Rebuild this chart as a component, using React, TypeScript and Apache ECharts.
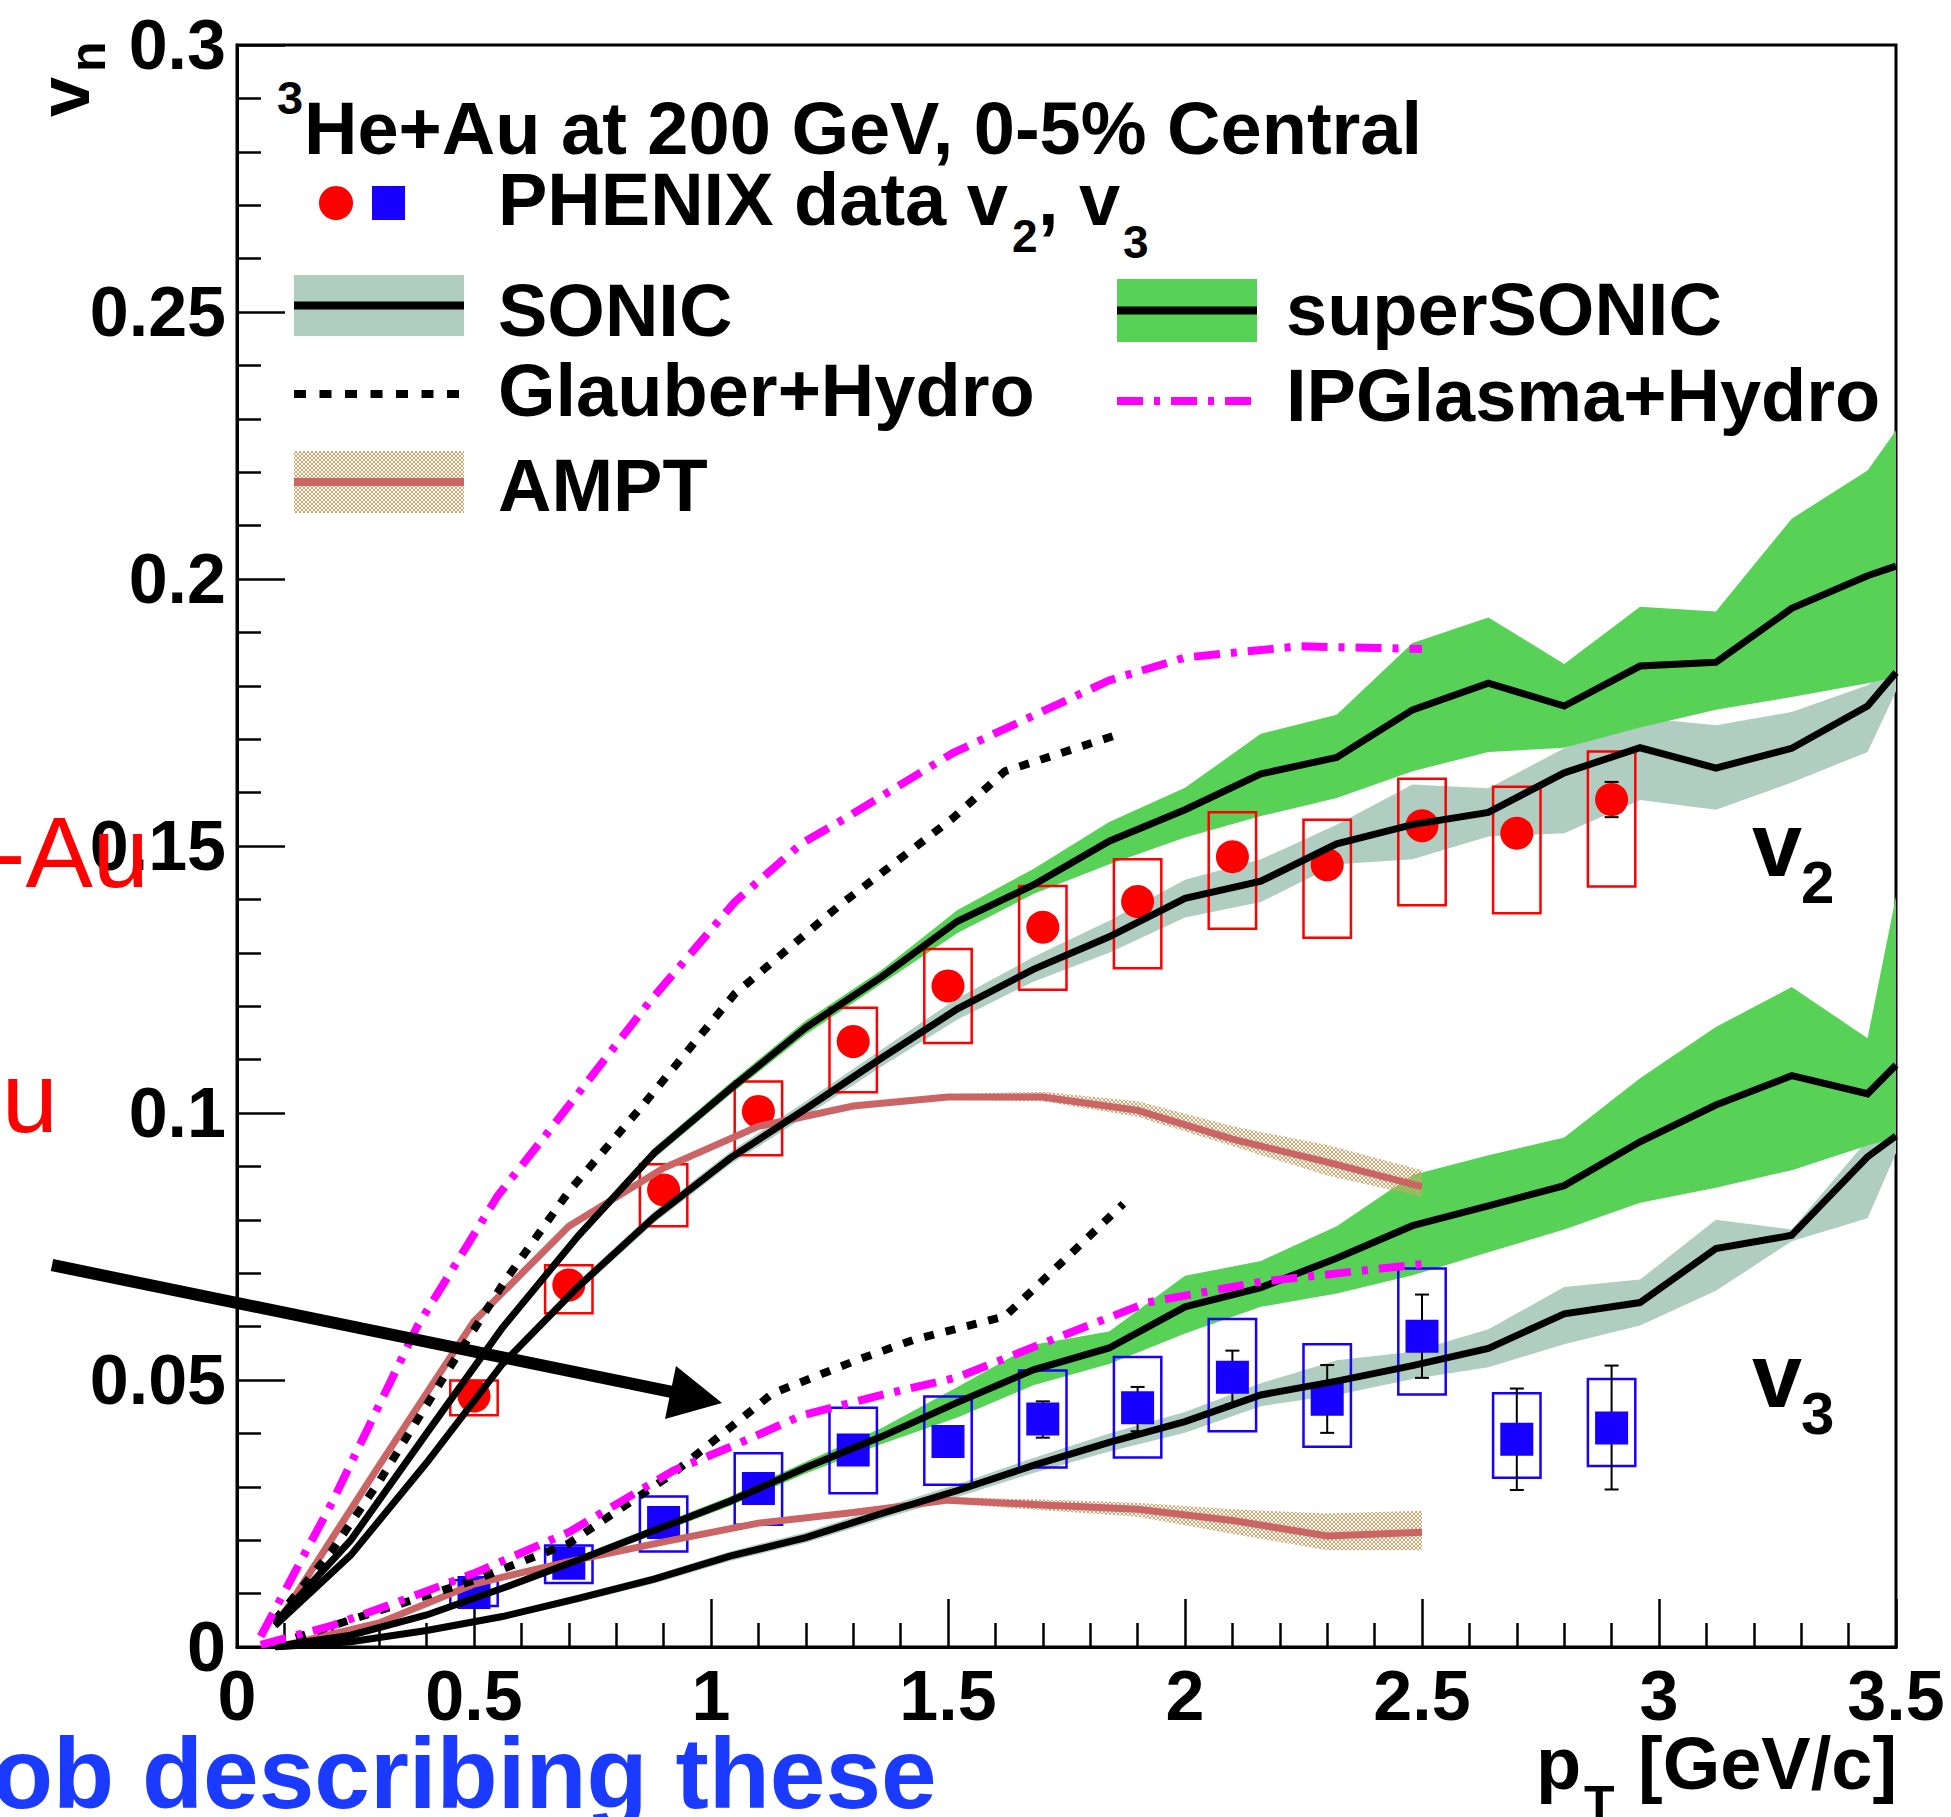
import React, { useEffect, useRef } from 'react';
import * as echarts from 'echarts';

const W = 1951;
const H = 1817;
const FONT = '"Liberation Sans", Arial, Helvetica, sans-serif';

// ---------- axis ticks ----------
const X_MIN = 0, X_MAX = 3.5, X_STEP = 0.5;
const Y_MIN = 0, Y_MAX = 0.3, Y_STEP = 0.05;

// ---------- hydro model grid (SONIC / superSONIC) ----------
const MODEL_PT = [0.08, 0.24, 0.40, 0.56, 0.72, 0.88, 1.04, 1.20, 1.36, 1.52, 1.68, 1.84, 2.00, 2.16, 2.32, 2.48, 2.64, 2.80, 2.96, 3.12, 3.28, 3.44, 3.50];

const SONIC_V2 = [0.0040, 0.0172, 0.0345, 0.0530, 0.0675, 0.0805, 0.0915, 0.1008, 0.1103, 0.1195, 0.1269, 0.1330, 0.1402, 0.1434, 0.1504, 0.1540, 0.1563, 0.1637, 0.1684, 0.1646, 0.1683, 0.1762, 0.1825];
const SONIC_V2_LO = [0.0035, 0.0165, 0.0337, 0.0521, 0.0665, 0.0794, 0.0903, 0.0994, 0.1087, 0.1175, 0.1246, 0.1300, 0.1366, 0.1395, 0.1466, 0.1475, 0.1518, 0.1524, 0.1586, 0.1568, 0.1619, 0.1676, 0.1790];
const SONIC_V2_HI = [0.0045, 0.0179, 0.0353, 0.0539, 0.0685, 0.0816, 0.0927, 0.1022, 0.1119, 0.1215, 0.1292, 0.1360, 0.1437, 0.1475, 0.1540, 0.1615, 0.1608, 0.1683, 0.1740, 0.1726, 0.1751, 0.1801, 0.1840];

const SUPER_V2 = [0.0045, 0.0200, 0.0400, 0.0598, 0.0770, 0.0925, 0.1045, 0.1160, 0.1255, 0.1359, 0.1427, 0.1509, 0.1568, 0.1635, 0.1666, 0.1755, 0.1805, 0.1762, 0.1837, 0.1844, 0.1945, 0.2006, 0.2024];
const SUPER_V2_LO = [0.0040, 0.0193, 0.0392, 0.0590, 0.0761, 0.0915, 0.1034, 0.1147, 0.1242, 0.1337, 0.1410, 0.1466, 0.1516, 0.1556, 0.1590, 0.1640, 0.1676, 0.1684, 0.1722, 0.1755, 0.1779, 0.1805, 0.1816];
const SUPER_V2_HI = [0.0050, 0.0207, 0.0408, 0.0606, 0.0779, 0.0935, 0.1056, 0.1173, 0.1268, 0.1380, 0.1457, 0.1545, 0.1609, 0.1710, 0.1746, 0.1880, 0.1928, 0.1841, 0.1948, 0.1939, 0.2113, 0.2203, 0.2278];

const SONIC_V3 = [0.0000, 0.0010, 0.0031, 0.0057, 0.0091, 0.0127, 0.0170, 0.0205, 0.0250, 0.0293, 0.0340, 0.0383, 0.0422, 0.0472, 0.0498, 0.0527, 0.0559, 0.0624, 0.0645, 0.0746, 0.0771, 0.0918, 0.0957];
const SONIC_V3_LO = [0.0000, 0.0006, 0.0026, 0.0051, 0.0084, 0.0119, 0.0161, 0.0195, 0.0239, 0.0281, 0.0326, 0.0366, 0.0401, 0.0451, 0.0472, 0.0502, 0.0524, 0.0567, 0.0602, 0.0667, 0.0760, 0.0803, 0.0925];
const SONIC_V3_HI = [0.0004, 0.0014, 0.0036, 0.0063, 0.0098, 0.0135, 0.0179, 0.0215, 0.0261, 0.0305, 0.0354, 0.0400, 0.0440, 0.0494, 0.0537, 0.0553, 0.0595, 0.0674, 0.0688, 0.0800, 0.0782, 0.0950, 0.0990];

const SUPER_V3 = [0.0001, 0.0022, 0.0060, 0.0110, 0.0163, 0.0218, 0.0273, 0.0336, 0.0394, 0.0458, 0.0519, 0.0560, 0.0637, 0.0673, 0.0728, 0.0789, 0.0826, 0.0864, 0.0946, 0.1015, 0.1070, 0.1036, 0.1090];
const SUPER_V3_LO = [0.0000, 0.0018, 0.0055, 0.0104, 0.0156, 0.0210, 0.0264, 0.0325, 0.0380, 0.0430, 0.0490, 0.0530, 0.0587, 0.0637, 0.0662, 0.0696, 0.0739, 0.0782, 0.0832, 0.0860, 0.0893, 0.0939, 0.0953];
const SUPER_V3_HI = [0.0002, 0.0026, 0.0065, 0.0116, 0.0170, 0.0226, 0.0282, 0.0347, 0.0410, 0.0487, 0.0566, 0.0591, 0.0695, 0.0723, 0.0788, 0.0884, 0.0921, 0.0954, 0.1065, 0.1161, 0.1236, 0.1140, 0.1406];

// ---------- Glauber+Hydro ----------
const GLAUBER_V2_PT = [0.08, 0.20, 0.30, 0.45, 0.565, 0.70, 0.85, 1.05, 1.27, 1.51, 1.62, 1.87];
const GLAUBER_V2 = [0.0050, 0.0180, 0.0310, 0.0525, 0.0685, 0.0853, 0.1008, 0.1223, 0.1388, 0.1552, 0.1640, 0.1712];
const GLAUBER_V3_PT = [0.08, 0.30, 0.50, 0.70, 0.92, 1.13, 1.31, 1.43, 1.62, 1.87];
const GLAUBER_V3 = [0.0005, 0.0068, 0.0125, 0.0194, 0.0325, 0.0475, 0.0538, 0.0576, 0.0619, 0.0830];

// ---------- IPGlasma+Hydro ----------
const IPG_V2_PT = [0.05, 0.20, 0.38, 0.55, 0.65, 0.87, 1.05, 1.19, 1.27, 1.51, 1.84, 2.00, 2.24, 2.50];
const IPG_V2 = [0.0020, 0.0270, 0.0600, 0.0845, 0.0957, 0.1208, 0.1395, 0.1504, 0.1545, 0.1674, 0.1810, 0.1853, 0.1874, 0.1869];
const IPG_V3_PT = [0.05, 0.20, 0.35, 0.50, 0.70, 0.92, 1.05, 1.19, 1.35, 1.52, 1.67, 1.92, 2.16, 2.50];
const IPG_V3 = [0.0004, 0.0040, 0.0088, 0.0138, 0.0215, 0.0330, 0.0378, 0.0433, 0.0470, 0.0505, 0.0558, 0.0645, 0.0684, 0.0717];

// ---------- AMPT ----------
const AMPT_PT = [0.1, 0.3, 0.5, 0.7, 0.9, 1.1, 1.3, 1.5, 1.7, 1.9, 2.1, 2.3, 2.5];
const AMPT_V2 = [0.0065, 0.0340, 0.0610, 0.0788, 0.0897, 0.0975, 0.1013, 0.1030, 0.1030, 0.1005, 0.0951, 0.0908, 0.0862];
const AMPT_V2_LO = [0.0060, 0.0335, 0.0605, 0.0783, 0.0892, 0.0970, 0.1008, 0.1025, 0.1022, 0.0993, 0.0938, 0.0883, 0.0843];
const AMPT_V2_HI = [0.0070, 0.0345, 0.0615, 0.0793, 0.0902, 0.0980, 0.1018, 0.1035, 0.1040, 0.1022, 0.0975, 0.0940, 0.0893];
const AMPT_V3 = [0.0003, 0.0045, 0.0118, 0.0160, 0.0197, 0.0232, 0.0252, 0.0275, 0.0266, 0.0258, 0.0237, 0.0208, 0.0215];
const AMPT_V3_LO = [0.0000, 0.0040, 0.0113, 0.0155, 0.0192, 0.0227, 0.0246, 0.0269, 0.0256, 0.0244, 0.0212, 0.0181, 0.0181];
const AMPT_V3_HI = [0.0006, 0.0050, 0.0123, 0.0165, 0.0202, 0.0237, 0.0258, 0.0281, 0.0276, 0.0270, 0.0258, 0.0250, 0.0255];

// ---------- PHENIX data ----------
const DATA_PT = [0.5, 0.7, 0.9, 1.1, 1.3, 1.5, 1.7, 1.9, 2.1, 2.3, 2.5, 2.7, 2.9];
const BOX_HALF_WIDTH = 0.05;
const V2 = [0.0470, 0.0678, 0.0856, 0.1003, 0.1134, 0.1238, 0.1348, 0.1396, 0.1480, 0.1465, 0.1538, 0.1524, 0.1587];
const V2_SYS_LO = [0.0434, 0.0625, 0.0788, 0.0921, 0.1039, 0.1131, 0.1231, 0.1271, 0.1345, 0.1328, 0.1389, 0.1374, 0.1424];
const V2_SYS_HI = [0.0499, 0.0715, 0.0904, 0.1059, 0.1197, 0.1307, 0.1425, 0.1475, 0.1563, 0.1549, 0.1626, 0.1611, 0.1677];
const V2_STAT_LO = [0.0465, 0.0673, 0.0851, 0.0997, 0.1128, 0.1231, 0.1340, 0.1387, 0.1470, 0.1453, 0.1525, 0.1508, 0.1554];
const V2_STAT_HI = [0.0475, 0.0683, 0.0861, 0.1009, 0.1140, 0.1245, 0.1356, 0.1405, 0.1490, 0.1477, 0.1551, 0.1540, 0.1620];
const V3 = [0.0102, 0.0157, 0.0233, 0.0297, 0.0369, 0.0385, 0.0427, 0.0448, 0.0505, 0.0464, 0.0582, 0.0389, 0.0410];
const V3_SYS_LO = [0.0077, 0.0120, 0.0179, 0.0229, 0.0288, 0.0304, 0.0336, 0.0355, 0.0404, 0.0375, 0.0473, 0.0317, 0.0339];
const V3_SYS_HI = [0.0125, 0.0190, 0.0282, 0.0363, 0.0448, 0.0469, 0.0518, 0.0543, 0.0614, 0.0567, 0.0709, 0.0475, 0.0502];
const V3_STAT_LO = [0.0098, 0.0152, 0.0227, 0.0290, 0.0360, 0.0372, 0.0392, 0.0404, 0.0455, 0.0401, 0.0504, 0.0294, 0.0295];
const V3_STAT_HI = [0.0106, 0.0162, 0.0239, 0.0304, 0.0378, 0.0398, 0.0460, 0.0487, 0.0555, 0.0528, 0.0660, 0.0484, 0.0527];

// ---------- colours ----------
const GREY_BAND = '#afcdc1';
const GREEN_BAND = '#57d257';
const AMPT_COLOR = '#cb6464';
const HATCH_COLOR = '#d8a46e';
const MAGENTA = '#ff00ff';
const RED = '#ff0000';
const BLUE = '#1800ff';
const GLAUBER_DASH = [10, 12];
const IPG_DASH = [26, 11, 6, 11];

function fmt(v: number) {
  return String(Number(v.toFixed(2)));
}

function makeHatch(): any {
  const c = document.createElement('canvas');
  c.width = 4;
  c.height = 4;
  const ctx = c.getContext('2d');
  if (ctx) {
    ctx.fillStyle = HATCH_COLOR;
    for (let i = 0; i < 4; i++) {
      ctx.fillRect(i, i, 1, 1);
      ctx.fillRect(3 - i, i, 1, 1);
    }
  }
  return { image: c, repeat: 'repeat', imageWidth: 4, imageHeight: 4 };
}

function bandSeries(xs: number[], lo: number[], hi: number[], fill: any, z: number) {
  const data = xs.map((x, i) => [x, lo[i], hi[i]]);
  return {
    type: 'custom',
    z,
    silent: true,
    data,
    encode: { x: 0, y: [1, 2] },
    renderItem: (params: any, api: any) => {
      if (params.dataIndex !== 0) return null;
      const pts: number[][] = [];
      for (let i = 0; i < data.length; i++) pts.push(api.coord([data[i][0], data[i][2]]));
      for (let i = data.length - 1; i >= 0; i--) pts.push(api.coord([data[i][0], data[i][1]]));
      return { type: 'polygon', shape: { points: pts }, style: { fill, stroke: null } };
    },
  };
}

function boxSeries(xs: number[], lo: number[], hi: number[], color: string, z: number) {
  return {
    type: 'custom',
    z,
    silent: true,
    data: xs.map((x, i) => [x, lo[i], hi[i]]),
    encode: { x: 0, y: [1, 2] },
    renderItem: (params: any, api: any) => {
      const x = api.value(0);
      const a = api.coord([x - BOX_HALF_WIDTH, api.value(2)]);
      const b = api.coord([x + BOX_HALF_WIDTH, api.value(1)]);
      return {
        type: 'rect',
        shape: { x: a[0], y: a[1], width: b[0] - a[0], height: b[1] - a[1] },
        style: { fill: 'transparent', stroke: color, lineWidth: 2.5 },
      };
    },
  };
}

function errSeries(xs: number[], lo: number[], hi: number[], z: number) {
  return {
    type: 'custom',
    z,
    silent: true,
    data: xs.map((x, i) => [x, lo[i], hi[i]]),
    encode: { x: 0, y: [1, 2] },
    renderItem: (params: any, api: any) => {
      const x = api.value(0);
      const t = api.coord([x, api.value(2)]);
      const b = api.coord([x, api.value(1)]);
      const w = 7;
      const st = { stroke: '#000', lineWidth: 2 };
      return {
        type: 'group',
        children: [
          { type: 'line', shape: { x1: t[0], y1: t[1], x2: b[0], y2: b[1] }, style: st },
          { type: 'line', shape: { x1: t[0] - w, y1: t[1], x2: t[0] + w, y2: t[1] }, style: st },
          { type: 'line', shape: { x1: b[0] - w, y1: b[1], x2: b[0] + w, y2: b[1] }, style: st },
        ],
      };
    },
  };
}

function lineSeries(xs: number[], ys: number[], color: string, width: number, type: any, z: number) {
  return {
    type: 'line',
    z,
    silent: true,
    data: xs.map((x, i) => [x, ys[i]]),
    showSymbol: false,
    symbol: 'none',
    lineStyle: { color, width, type, cap: 'butt', join: 'miter' },
  };
}

function scatterSeries(xs: number[], ys: number[], symbol: string, color: string, z: number) {
  return {
    type: 'scatter',
    z,
    silent: true,
    data: xs.map((x, i) => [x, ys[i]]),
    symbol,
    symbolSize: 33,
    itemStyle: { color, opacity: 1 },
  };
}

// text placed by its baseline (svg text uses central baseline)
function txt(x: number, base: number, text: string, size: number, o: any = {}) {
  const align = o.align || 'left';
  return {
    type: 'text',
    x,
    y: base - 0.347 * size,
    z: o.z != null ? o.z : 50,
    style: {
      text,
      fontSize: size,
      fontFamily: FONT,
      fontWeight: o.weight || 'bold',
      fill: o.color || '#000',
      align,
      textAlign: align,
      verticalAlign: 'middle',
      textVerticalAlign: 'middle',
    },
  };
}

function rotTxt(baseX: number, startY: number, text: string, size: number) {
  return {
    type: 'text',
    x: baseX - 0.347 * size,
    y: startY,
    rotation: Math.PI / 2,
    z: 50,
    style: {
      text,
      fontSize: size,
      fontFamily: FONT,
      fontWeight: 'bold',
      fill: '#000',
      align: 'left',
      textAlign: 'left',
      verticalAlign: 'middle',
      textVerticalAlign: 'middle',
    },
  };
}

export default function App() {
  const ref = useRef<HTMLDivElement>(null);

  useEffect(() => {
    if (!ref.current) return;
    const chart = echarts.init(ref.current, undefined, { renderer: 'svg', width: W, height: H });
    const hatch = makeHatch();

    const axisLabel = {
      color: '#000',
      fontSize: 70,
      fontWeight: 'bold',
      fontFamily: FONT,
      formatter: fmt,
    };
    const tickStyle = { color: '#000', width: 2.5 };

    const series: any[] = [
      bandSeries(MODEL_PT, SONIC_V2_LO, SONIC_V2_HI, GREY_BAND, 1),
      bandSeries(MODEL_PT, SONIC_V3_LO, SONIC_V3_HI, GREY_BAND, 1),
      bandSeries(MODEL_PT, SUPER_V2_LO, SUPER_V2_HI, GREEN_BAND, 1),
      bandSeries(MODEL_PT, SUPER_V3_LO, SUPER_V3_HI, GREEN_BAND, 1),
      bandSeries(AMPT_PT, AMPT_V2_LO, AMPT_V2_HI, hatch, 1),
      bandSeries(AMPT_PT, AMPT_V3_LO, AMPT_V3_HI, hatch, 1),
      boxSeries(DATA_PT, V2_SYS_LO, V2_SYS_HI, RED, 2),
      boxSeries(DATA_PT, V3_SYS_LO, V3_SYS_HI, BLUE, 2),
      errSeries(DATA_PT, V2_STAT_LO, V2_STAT_HI, 2),
      errSeries(DATA_PT, V3_STAT_LO, V3_STAT_HI, 2),
      scatterSeries(DATA_PT, V2, 'circle', RED, 3),
      scatterSeries(DATA_PT, V3, 'rect', BLUE, 3),
      lineSeries(AMPT_PT, AMPT_V2, AMPT_COLOR, 7, 'solid', 4),
      lineSeries(AMPT_PT, AMPT_V3, AMPT_COLOR, 7, 'solid', 4),
      lineSeries(MODEL_PT, SONIC_V2, '#000', 7, 'solid', 4),
      lineSeries(MODEL_PT, SONIC_V3, '#000', 7, 'solid', 4),
      lineSeries(MODEL_PT, SUPER_V2, '#000', 7, 'solid', 4),
      lineSeries(MODEL_PT, SUPER_V3, '#000', 7, 'solid', 4),
      lineSeries(GLAUBER_V2_PT, GLAUBER_V2, '#000', 8, GLAUBER_DASH, 4),
      lineSeries(GLAUBER_V3_PT, GLAUBER_V3, '#000', 8, GLAUBER_DASH, 4),
      lineSeries(IPG_V2_PT, IPG_V2, MAGENTA, 8, IPG_DASH, 4),
      lineSeries(IPG_V3_PT, IPG_V3, MAGENTA, 8, IPG_DASH, 4),
    ];

    const graphic: any[] = [
      // legend header
      txt(277, 114, '3', 47),
      txt(304, 154, 'He+Au at 200 GeV, 0-5% Central', 74),
      // PHENIX data row
      { type: 'circle', z: 50, shape: { cx: 336, cy: 203, r: 17 }, style: { fill: RED } },
      { type: 'rect', z: 50, shape: { x: 372, y: 186, width: 33, height: 34 }, style: { fill: BLUE } },
      txt(498, 225, 'PHENIX data v', 74),
      txt(1012, 252, '2', 46),
      txt(1038, 225, ', v', 74),
      txt(1123, 258, '3', 46),
      // SONIC
      { type: 'rect', z: 50, shape: { x: 294, y: 275, width: 170, height: 61 }, style: { fill: GREY_BAND } },
      { type: 'line', z: 51, shape: { x1: 294, y1: 305.5, x2: 464, y2: 305.5 }, style: { stroke: '#000', lineWidth: 8 } },
      txt(498, 336, 'SONIC', 74),
      // superSONIC
      { type: 'rect', z: 50, shape: { x: 1117, y: 279, width: 140, height: 63 }, style: { fill: GREEN_BAND } },
      { type: 'line', z: 51, shape: { x1: 1117, y1: 310.5, x2: 1257, y2: 310.5 }, style: { stroke: '#000', lineWidth: 8 } },
      txt(1286, 335, 'superSONIC', 74),
      // Glauber
      { type: 'line', z: 51, shape: { x1: 294, y1: 394, x2: 460, y2: 394 }, style: { stroke: '#000', lineWidth: 8, lineDash: [12, 13.5] } },
      txt(498, 416, 'Glauber+Hydro', 74),
      // IPGlasma
      { type: 'line', z: 51, shape: { x1: 1117, y1: 401, x2: 1257, y2: 401 }, style: { stroke: MAGENTA, lineWidth: 8, lineDash: IPG_DASH } },
      txt(1286, 421, 'IPGlasma+Hydro', 74),
      // AMPT
      { type: 'rect', z: 50, shape: { x: 294, y: 451, width: 170, height: 62 }, style: { fill: hatch } },
      { type: 'line', z: 51, shape: { x1: 294, y1: 482, x2: 464, y2: 482 }, style: { stroke: AMPT_COLOR, lineWidth: 8 } },
      txt(498, 511, 'AMPT', 74),
      // in-plot labels
      txt(1752, 876, 'v', 90),
      txt(1801, 903, '2', 60),
      txt(1752, 1407, 'v', 90),
      txt(1801, 1434, '3', 60),
      // axis titles
      rotTxt(89, 117, 'v', 72),
      rotTxt(105, 72, 'n', 50),
      txt(1536, 1789, 'p', 74),
      txt(1584, 1821, 'T', 50),
      txt(1638, 1789, '[GeV/c]', 74),
      // slide overlays
      txt(149, 887, '-Au', 101, { weight: 'normal', color: RED, align: 'right', z: 100 }),
      txt(58, 1132, 'u', 101, { weight: 'normal', color: RED, align: 'right', z: 100 }),
      txt(-8, 1808, 'ob describing these', 100, { color: '#1a3aff', z: 100 }),
      { type: 'line', z: 100, shape: { x1: 52, y1: 1265, x2: 672, y2: 1392 }, style: { stroke: '#000', lineWidth: 12 } },
      { type: 'polygon', z: 100, shape: { points: [[722, 1403], [676, 1366], [665, 1419]] }, style: { fill: '#000' } },
    ];

    chart.setOption({
      animation: false,
      backgroundColor: '#ffffff',
      grid: {
        left: 237,
        top: 45,
        width: 1659,
        height: 1602,
        show: true,
        borderColor: '#000',
        borderWidth: 3,
        backgroundColor: 'transparent',
      },
      xAxis: {
        type: 'value',
        min: X_MIN,
        max: X_MAX,
        interval: X_STEP,
        axisLine: { show: true, onZero: false, lineStyle: { color: '#000', width: 3 } },
        axisTick: { show: true, inside: true, length: 48, lineStyle: tickStyle },
        minorTick: { show: true, splitNumber: 5, length: 24, lineStyle: tickStyle },
        splitLine: { show: false },
        minorSplitLine: { show: false },
        axisLabel: { ...axisLabel, margin: 14 },
      },
      yAxis: {
        type: 'value',
        min: Y_MIN,
        max: Y_MAX,
        interval: Y_STEP,
        axisLine: { show: true, onZero: false, lineStyle: { color: '#000', width: 3 } },
        axisTick: { show: true, inside: true, length: 48, lineStyle: tickStyle },
        minorTick: { show: true, splitNumber: 5, length: 24, lineStyle: tickStyle },
        splitLine: { show: false },
        minorSplitLine: { show: false },
        axisLabel: { ...axisLabel, margin: 11 },
      },
      series,
      graphic: { elements: graphic },
    });

    return () => {
      chart.dispose();
    };
  }, []);

  return <div ref={ref} style={{ position: 'absolute', left: 0, top: 0, width: W, height: H }} />;
}
